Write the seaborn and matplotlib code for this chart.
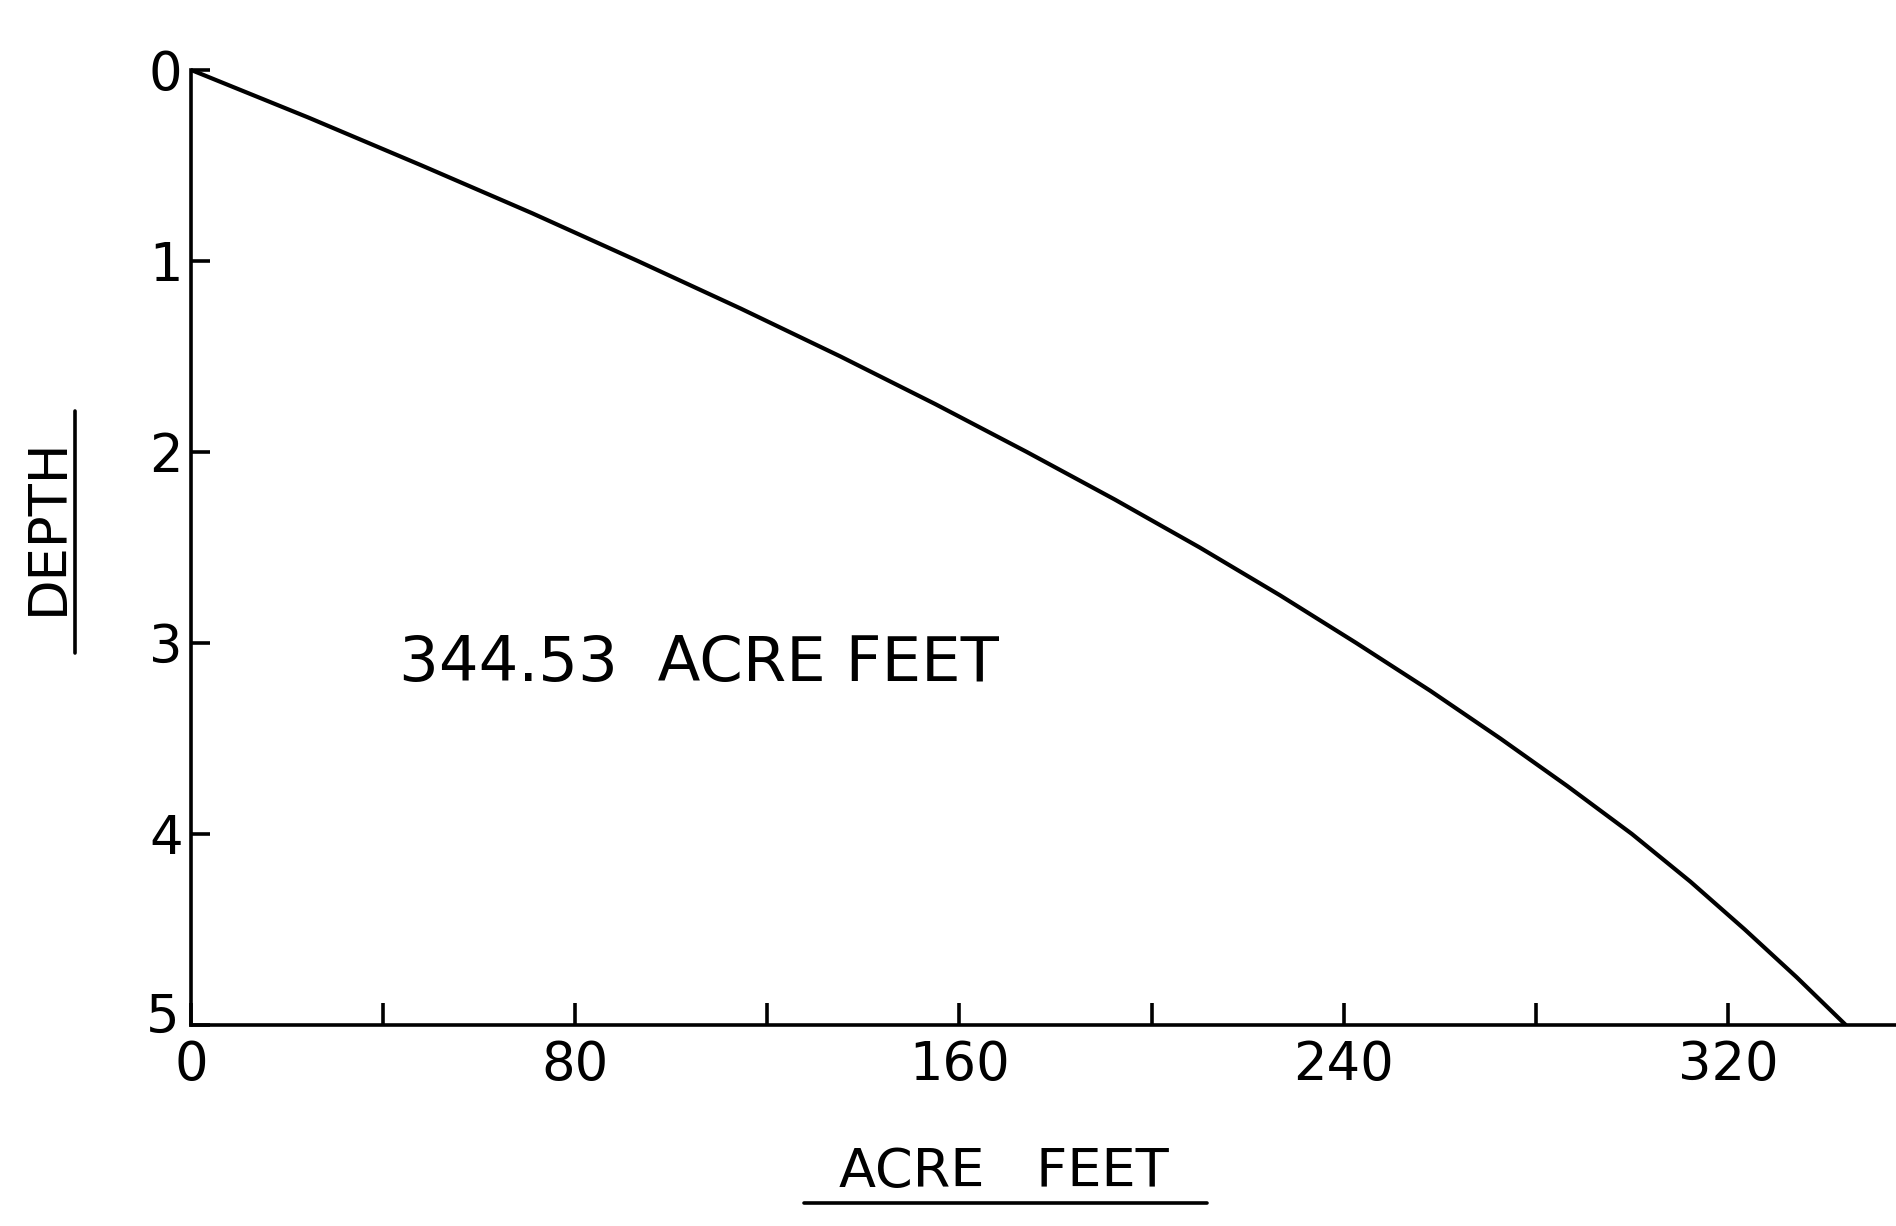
import seaborn as sns
import pandas as pd
from matplotlib import pyplot as plt
from matplotlib.lines import Line2D
from matplotlib.transforms import ScaledTranslation

# values
depth = [0, 0.25, 0.5, 0.75, 1, 1.25, 1.5, 1.75, 2, 2.25, 2.5,
         2.75, 3, 3.25, 3.5, 3.75, 4, 4.25, 4.5, 4.75, 5]
acre_feet = [0, 24.5, 48, 71, 93, 114.5, 135.2, 155, 174, 192.4, 210,
             226.7, 242.6, 258, 272.6, 286.6, 300, 312.2, 323.5, 334.3, 344.53]

x_ticks = [0, 40, 80, 120, 160, 200, 240, 280, 320]
x_tick_labels = ["0", "", "80", "", "160", "", "240", "", "320"]
y_ticks = [0, 1, 2, 3, 4, 5]
y_tick_labels = ["0", "1", "2", "3", "4", "5"]

total_label = "344.53  ACRE FEET"
x_title = "ACRE   FEET"
y_title = "DEPTH"

data = pd.DataFrame({"Acre Feet": acre_feet, "Depth": depth})

sns.set_style("white")
plt.rcParams["font.family"] = ["DejaVu Sans"]
plt.rcParams["text.color"] = "black"

fig = plt.figure(figsize=(18.96, 12.26), dpi=100)
ax = fig.add_axes([0.1007, 0.164, 0.8993, 0.779])

sns.lineplot(data=data, x="Acre Feet", y="Depth", color="black", linewidth=3.0, ax=ax)

ax.set_xlim(0, 355)
ax.set_ylim(5, 0)
ax.set_xticks(x_ticks)
ax.set_xticklabels(x_tick_labels)
ax.set_yticks(y_ticks)
ax.set_yticklabels(y_tick_labels)
ax.set_xlabel("")
ax.set_ylabel("")

for side in ["top", "right"]:
    ax.spines[side].set_visible(False)
for side in ["left", "bottom"]:
    ax.spines[side].set_color("black")
    ax.spines[side].set_linewidth(2.6)

ax.tick_params(axis="x", bottom=True, direction="in", length=16, width=2.6, pad=10,
               labelsize=38, colors="black")
ax.tick_params(axis="y", left=True, direction="in", length=14, width=2.6, pad=6,
               labelsize=38, colors="black")

# the "5" sits a little above the corner in the original
last = ax.get_yticklabels()[-1]
last.set_transform(last.get_transform() + ScaledTranslation(-2 / 72, 9 / 72, fig.dpi_scale_trans))

ax.text(43.3, 3.11, total_label, fontsize=45, va="center", ha="left", color="black")

# axis titles, underlined like the original lettering
fig.text(1004 / 1896, 1 - 1172 / 1226, x_title, fontsize=39, ha="center", va="center",
         color="black")
fig.add_artist(Line2D([804 / 1896, 1207 / 1896], [1 - 1203 / 1226, 1 - 1203 / 1226],
                      color="black", linewidth=2.6))
fig.text(48 / 1896, 1 - 526 / 1226, y_title, fontsize=38, rotation=90,
         ha="center", va="center", color="black")
fig.add_artist(Line2D([75 / 1896, 75 / 1896], [1 - 411 / 1226, 1 - 653 / 1226],
                      color="black", linewidth=2.6))

fig.savefig("out.png", dpi=100, facecolor="white")
